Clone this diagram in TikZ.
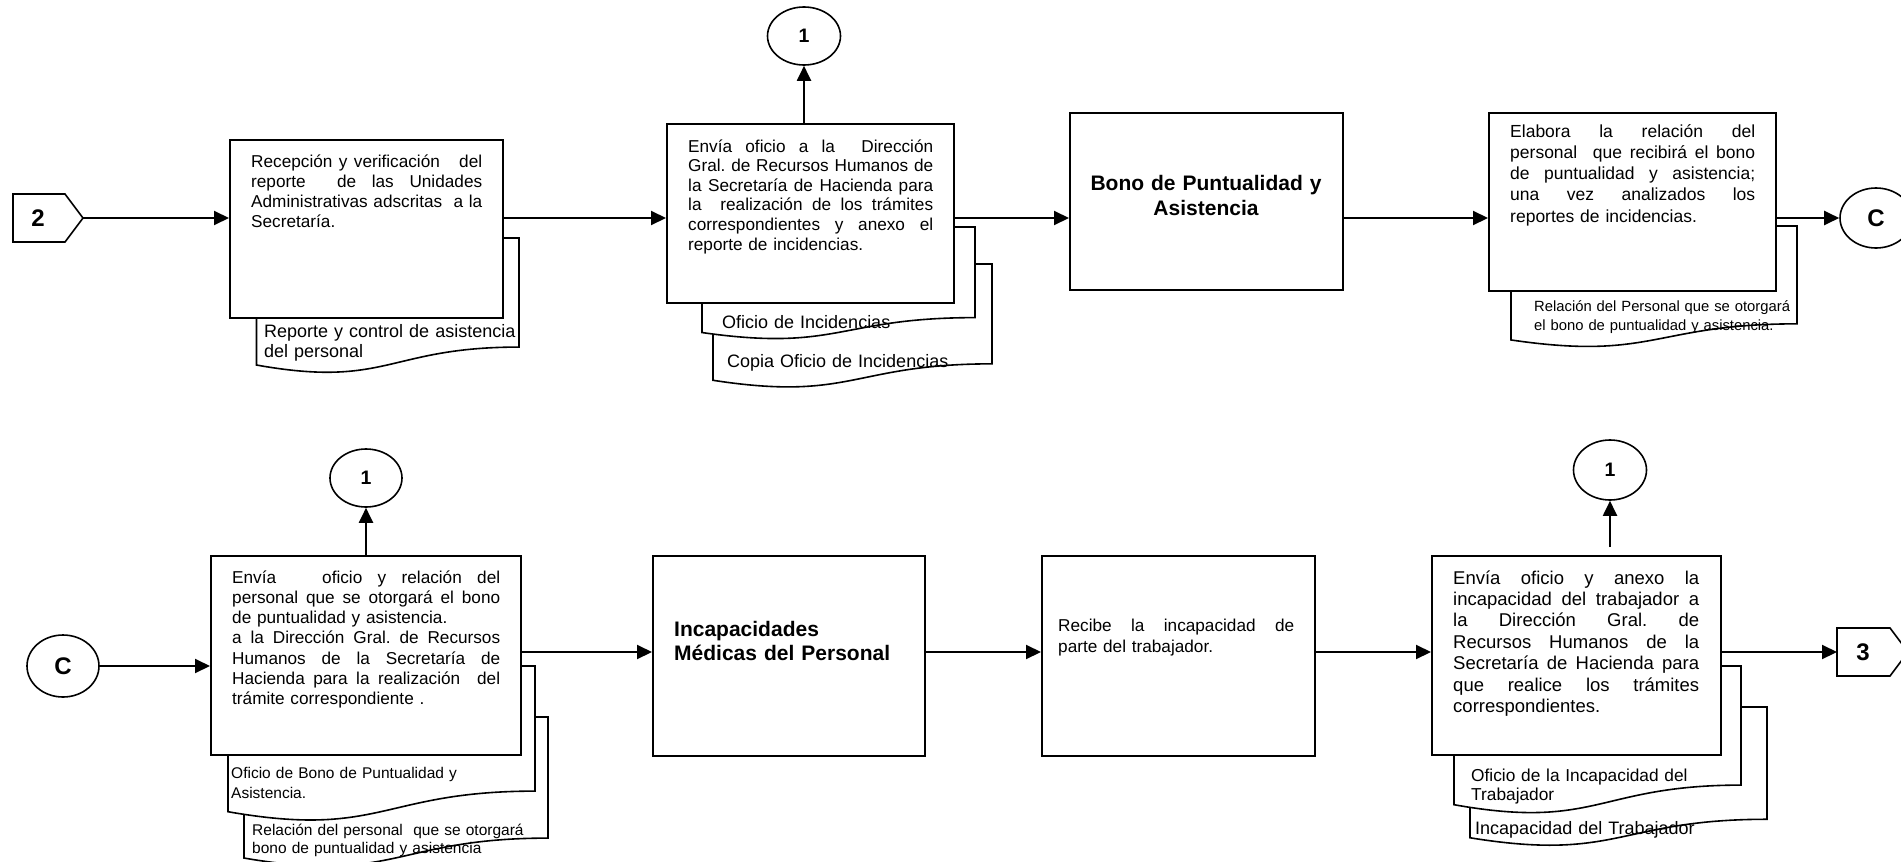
\documentclass[tikz,border=0pt]{standalone}
\usepackage{fontspec}
\setmainfont{Liberation Sans}
\usetikzlibrary{arrows.meta,shapes.geometric}
\frenchspacing
% width of the justified text block in the current box
\newlength\jw
% one justified line filling the text width, and a closing line at natural width
\newcommand\jl[1]{\hbox to\jw{\spaceskip=0.278em plus 1fil\relax\xspaceskip=\spaceskip #1}}
\newcommand\jend[1]{\hbox{#1}}
\newcommand\fs[2]{\fontsize{#1}{#2}\selectfont}
% font size, line distance and block width for justified box text
\newcommand\jfont[3]{\fs{#1}{#2}\setlength\jw{#3}}
% document symbol: left, top, right, height
\newcommand\docpath[4]{%
  \path[docline] (#1,#2) -- (#3,#2) -- (#3,{#2+0.802*#4})
    .. controls ({(#1+#3)/2},{#2+0.802*#4}) and ({(#1+#3)/2},{#2+1.107*#4}) ..
    (#1,{#2+0.934*#4}) -- cycle;}
\begin{document}
\begin{tikzpicture}[x=1pt,y=-1pt,
  box/.style={draw, line width=2pt, fill=white, inner sep=0pt, anchor=north west},
  conn/.style={ellipse, draw, line width=1.6pt, fill=white, inner sep=0pt},
  onelabel/.style={font=\fs{19.5}{20}\bfseries},
  biglabel/.style={font=\fs{24}{26}\bfseries},
  docline/.style={draw, line width=1.6pt, fill=white},
  btxt/.style={inner sep=0pt, anchor=base west},
  dtxt/.style={inner sep=0pt, anchor=base west, text width=330pt, align=left},
  arr/.style={line width=2pt, -{Triangle[length=15pt,width=14pt]}},
]
\useasboundingbox (0,0) rectangle (1901,862);

% ---------------- first row ----------------
% off-page connector 2
\draw[line width=1.6pt] (13,194) -- (65,194) -- (83,218) -- (65,242) -- (13,242) -- cycle;
\node[biglabel] (p2) at (38,218) {2};
\coordinate (p2tip) at (83,218);
\coordinate (r1) at (0,218);

% documents behind the process boxes
\docpath{256.5}{238}{519}{136}
\docpath{713}{264}{992}{124.5}
\docpath{702}{227}{975}{113}
\docpath{1511}{226}{1797}{122}

% process boxes
\node[box, minimum width=273pt, minimum height=178pt] (b1) at (229,139) {};
\node[box, minimum width=287pt, minimum height=179pt] (b2) at (666,123) {};
\node[box, minimum width=273pt, minimum height=177pt] (b3) at (1069,112) {};
\node[box, minimum width=287pt, minimum height=178pt] (b4) at (1488,112) {};

% connectors
\node[conn, onelabel, minimum width=73pt, minimum height=58pt] (c1a) at (804,36) {1};
\node[conn, biglabel, minimum width=72pt, minimum height=60pt] (cC1) at (1876,218) {C};

% flow
\draw[arr] (p2tip) -- (b1.west |- r1);
\draw[arr] (b1.east |- r1) -- (b2.west |- r1);
\draw[arr] (b2.east |- r1) -- (b3.west |- r1);
\draw[arr] (b3.east |- r1) -- (b4.west |- r1);
\draw[arr] (b4.east |- r1) -- (cC1.west);
\draw[arr] (b2.north -| c1a.south) -- (c1a.south);

% box texts
\node[btxt, text width=231pt, font=\jfont{17.2}{20}{231pt}] (t1) at (251,167) {%
\jl{Recepción y verificación\ \ \ del}
\jl{reporte\ \ de las Unidades}
\jl{Administrativas adscritas\ \ a la}
\jend{Secretaría.}};
\node[btxt, text width=245pt, font=\jfont{17.2}{19.6}{245pt}] (t2) at (688,152) {%
\jl{Envía oficio a la\ \ Dirección}
\jl{Gral. de Recursos Humanos de}
\jl{la Secretaría de Hacienda para}
\jl{la\ \ realización de los trámites}
\jl{correspondientes y anexo el}
\jend{reporte de incidencias.}};
\node[btxt, anchor=base, text width=270pt, align=center, font=\fs{21}{25}\bfseries] (t3) at (1206,190)
  {Bono de Puntualidad y\\Asistencia};
\node[btxt, text width=245pt, font=\jfont{17.5}{21.3}{245pt}] (t4) at (1510,137) {%
\jl{Elabora la relación del}
\jl{personal\ \ que recibirá el bono}
\jl{de puntualidad y asistencia;}
\jl{una vez analizados los}
\jend{reportes de incidencias.}};

% document texts
\node[dtxt, font=\fs{18}{20}] (d1) at (264,337) {Reporte y control de asistencia\\del personal};
\node[dtxt, font=\fs{18}{20}] (d2a) at (722,328) {Oficio de Incidencias};
\node[dtxt, font=\fs{18}{20}] (d2b) at (727,367) {Copia Oficio de Incidencias};
\node[dtxt, font=\fs{14.8}{19}] (d4) at (1534,311)
  {Relación del Personal que se otorgará\\el bono de puntualidad y asistencia.};

% ---------------- second row ----------------
\coordinate (r2) at (0,652);

\docpath{244}{717}{548}{151}
\docpath{228}{666}{535}{156}
\docpath{1470}{707}{1767}{140}
\docpath{1454}{666}{1741}{148.5}

\node[box, minimum width=310pt, minimum height=199pt] (b5) at (210,555) {};
\node[box, minimum width=272pt, minimum height=200pt] (b6) at (652,555) {};
\node[box, minimum width=273pt, minimum height=200pt] (b7) at (1041,555) {};
\node[box, minimum width=289pt, minimum height=199pt] (b8) at (1431,555) {};

\node[conn, biglabel, minimum width=72pt, minimum height=62pt] (cC2) at (63,666) {C};
\node[conn, onelabel, minimum width=72pt, minimum height=58pt] (c1b) at (366,478) {1};
\node[conn, onelabel, minimum width=73pt, minimum height=60pt] (c1c) at (1610,470) {1};

% off-page connector 3
\draw[line width=1.6pt] (1837,628) -- (1890,628) -- (1908,652) -- (1890,676) -- (1837,676) -- cycle;
\node[biglabel] (p3) at (1863,652) {3};
\coordinate (p3tail) at (1837,652);

\draw[arr] (cC2.east) -- (b5.west |- cC2.east);
\draw[arr] (b5.east |- r2) -- (b6.west |- r2);
\draw[arr] (b6.east |- r2) -- (b7.west |- r2);
\draw[arr] (b7.east |- r2) -- (b8.west |- r2);
\draw[arr] (b8.east |- r2) -- (p3tail);
\draw[arr] (b5.north -| c1b.south) -- (c1b.south);
\coordinate (a8) at ([yshift=8pt]b8.north);
\draw[arr] (a8 -| c1c.south) -- (c1c.south);

\node[btxt, text width=268pt, font=\jfont{17.2}{20.3}{268pt}] (t5) at (232,583) {%
\jl{Envía\ \ \ oficio y relación del}
\jl{personal que se otorgará el bono}
\jend{de puntualidad y asistencia.}
\jl{a la Dirección Gral. de Recursos}
\jl{Humanos de la Secretaría de}
\jl{Hacienda para la realización\ \ del}
\jend{trámite correspondiente .}};
\node[btxt, text width=260pt, align=left, font=\fs{21}{24}\bfseries] (t6) at (674,636)
  {Incapacidades\\Médicas del Personal};
\node[btxt, text width=236pt, font=\jfont{17.2}{21}{236pt}] (t7) at (1058,631) {%
\jl{Recibe la incapacidad de}
\jend{parte del trabajador.}};
\node[btxt, text width=246pt, font=\jfont{18.5}{21.4}{246pt}] (t8) at (1453,584) {%
\jl{Envía oficio y anexo la}
\jl{incapacidad del trabajador a}
\jl{la Dirección Gral. de}
\jl{Recursos Humanos de la}
\jl{Secretaría de Hacienda para}
\jl{que realice los trámites}
\jend{correspondientes.}};

\node[dtxt, font=\fs{15.5}{20}] (d5a) at (231,778) {Oficio de Bono de Puntualidad y\\Asistencia.};
\node[dtxt, font=\fs{15.5}{18.5}] (d5b) at (252,835)
  {Relación del personal\ \ que se otorgará\\bono de puntualidad y asistencia};
\node[dtxt, font=\fs{17.3}{19}] (d8a) at (1471,781) {Oficio de la Incapacidad del\\Trabajador};
\node[dtxt, font=\fs{18}{20}] (d8b) at (1475,834) {Incapacidad del Trabajador};
\end{tikzpicture}
\end{document}
